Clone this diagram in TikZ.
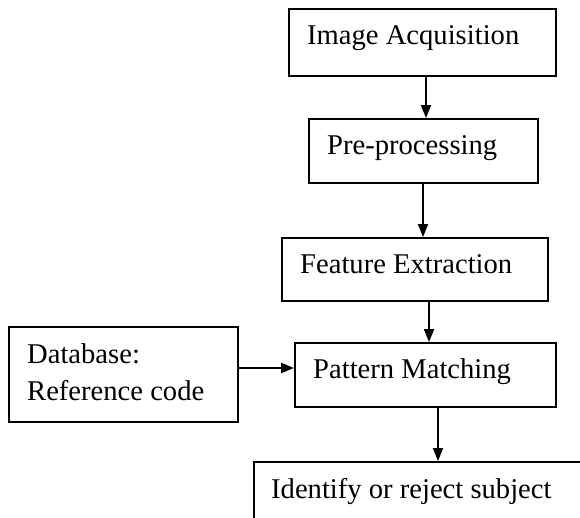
\documentclass[tikz,border=0pt]{standalone}
\usepackage{fontspec}
\setmainfont{Liberation Serif}
\usetikzlibrary{arrows.meta}
\begin{document}
\begin{tikzpicture}[x=1pt,y=1pt,
  box/.style={draw,line width=1.9pt,inner sep=0pt},
  lbl/.style={anchor=base west,inner sep=0pt,font=\fontsize{28.6}{34}\selectfont},
  arr/.style={line width=1.9pt,-{Triangle[length=13pt,width=10pt]}}]
\useasboundingbox (0,0) rectangle (580,-518);
\begin{scope}
\clip (0,0) rectangle (580,-518);
\node[box,minimum width=267pt,minimum height=67pt] (b1) at (422.5,-42.5) {};
\node[box,minimum width=229pt,minimum height=64pt] (b2) at (423.5,-151) {};
\node[box,minimum width=266pt,minimum height=63pt] (b3) at (415,-269.5) {};
\node[box,minimum width=261pt,minimum height=64pt] (b4) at (425.5,-375) {};
\node[box,minimum width=229pt,minimum height=95pt] (b5) at (123.5,-374.5) {};
\node[box,minimum width=346pt,minimum height=80pt] (b6) at (427,-502) {};
\end{scope}
\node[lbl] (t1) at (307,-45) {Image Acquisition};
\node[lbl] (t2) at (327,-155) {Pre-processing};
\node[lbl] (t3) at (300,-273) {Feature Extraction};
\node[lbl] (t4) at (313,-378) {Pattern Matching};
\node[lbl] (t5a) at (27,-363) {Database:};
\node[lbl] (t5b) at (27,-400) {Reference code};
\node[lbl] (t6) at (271,-498) {Identify or reject subject};
\draw[arr] ([xshift=3.5pt]b1.south) -- ([xshift=3.5pt]b1.south |- b2.north);
\draw[arr] ([xshift=-0.5pt]b2.south) -- ([xshift=-0.5pt]b2.south |- b3.north);
\draw[arr] ([xshift=14pt]b3.south) -- ([xshift=14pt]b3.south |- b4.north);
\draw[arr] ([xshift=12.5pt]b4.south) -- ([xshift=12.5pt]b4.south |- b6.north);
\draw[arr] ([yshift=6.5pt]b5.east) -- ([yshift=6.5pt]b5.east -| b4.west);
\end{tikzpicture}
\end{document}
